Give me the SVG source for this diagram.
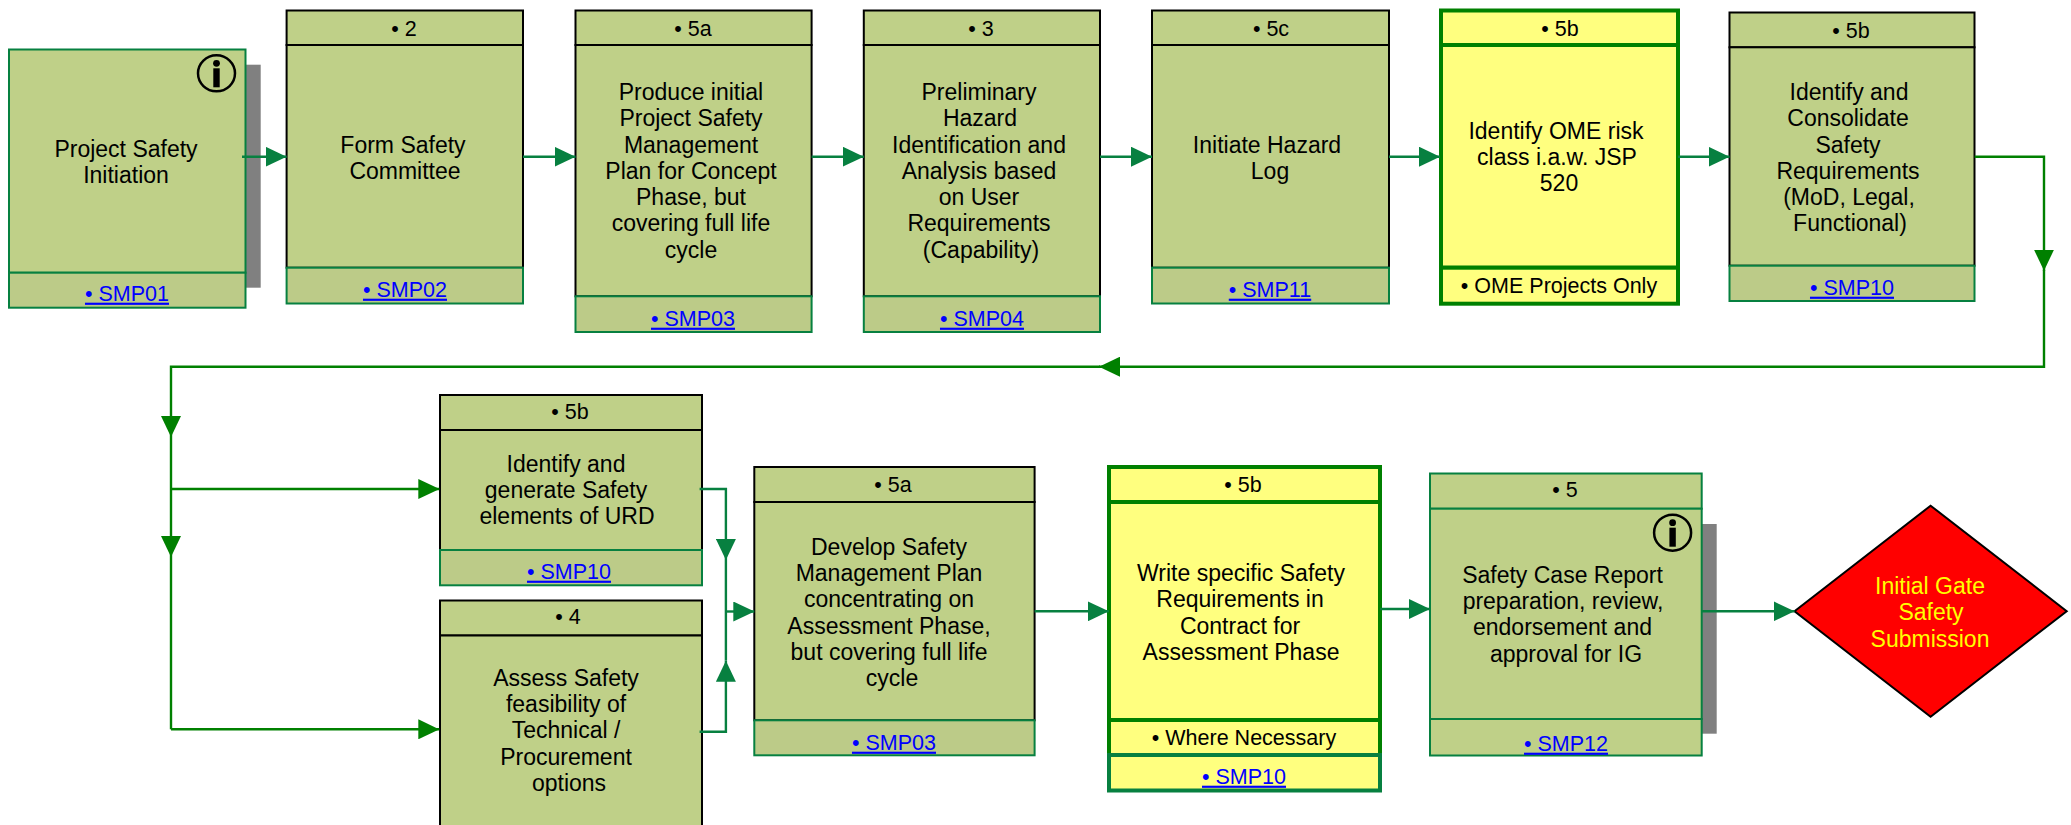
<svg xmlns="http://www.w3.org/2000/svg" width="2071" height="825" viewBox="0 0 2071 825">
<style>
text{font-family:"Liberation Sans",Arial,sans-serif;text-anchor:middle;fill:#000;transform:translateY(.7px)}
.b{font-size:23px}
.s{font-size:21.5px}
.l{font-size:21.5px;fill:#0000ff;text-decoration:underline}
.y{fill:#ffff00}
.o{fill:#bfd088;stroke:#000;stroke-width:2}
.g{fill:#bfd088;stroke:#078040;stroke-width:2}
.f{fill:#bccb88;stroke:#078040;stroke-width:2}
.w{fill:#ffff7f;stroke:#008000;stroke-width:4}
.w2{fill:#ffff7f;stroke:#078040;stroke-width:4}
.sh{fill:#808080}
.ic{fill:none;stroke:#000;stroke-width:2.5}
.c1,.c2{fill:none;stroke-width:2.4}
.c1{stroke:#078040}
.c2{stroke:#008000}
.a1{marker-end:url(#m1)}
.a2{marker-end:url(#m2)}
</style>
<defs>
<marker id="m1" markerUnits="userSpaceOnUse" viewBox="0 0 21 20" refX="21" refY="10" markerWidth="21" markerHeight="20" orient="auto"><path d="M0 0L21 10L0 20Z" fill="#078040"/></marker>
<marker id="m2" markerUnits="userSpaceOnUse" viewBox="0 0 21 20" refX="21" refY="10" markerWidth="21" markerHeight="20" orient="auto"><path d="M0 0L21 10L0 20Z" fill="#008000"/></marker>
<g id="info"><ellipse class="ic" cx="0" cy="0" rx="18.5" ry="18"/><circle cx="0" cy="-10" r="3.4"/><rect x="-3.2" y="-5" width="6.4" height="19"/></g>
</defs>

<g id="n1">
<rect class="sh" x="245.5" y="64.7" width="15.2" height="223"/>
<rect class="g" x="9" y="49.5" width="236.5" height="223.2"/>
<rect class="f" x="9" y="272.7" width="236.5" height="35"/>
<use href="#info" x="216.5" y="73.3"/>
<text class="b" x="126" y="156">Project Safety</text><text class="b" x="126" y="182">Initiation</text>
<text class="l" x="127" y="300">• SMP01</text>
</g>
<g id="n2">
<rect class="o" x="286.6" y="10.5" width="236.4" height="34.5"/>
<rect class="o" x="286.6" y="45" width="236.4" height="222.7"/>
<rect class="f" x="286.6" y="267.7" width="236.4" height="35.8"/>
<text class="s" x="404" y="35">• 2</text>
<text class="b" x="403" y="152">Form Safety</text><text class="b" x="405" y="178">Committee</text>
<text class="l" x="405" y="296">• SMP02</text>
</g>
<g id="n3">
<rect class="o" x="575.5" y="10.5" width="236.1" height="34.5"/>
<rect class="o" x="575.5" y="45" width="236.1" height="251.3"/>
<rect class="f" x="575.5" y="296.3" width="236.1" height="35.7"/>
<text class="s" x="693" y="35">• 5a</text>
<text class="b" x="691" y="99">Produce initial</text><text class="b" x="691" y="125.5">Project Safety</text><text class="b" x="691" y="152">Management</text><text class="b" x="691" y="178">Plan for Concept</text><text class="b" x="691" y="204">Phase, but</text><text class="b" x="691" y="230.5">covering full life</text><text class="b" x="691" y="257">cycle</text>
<text class="l" x="693" y="325">• SMP03</text>
</g>
<g id="n4">
<rect class="o" x="863.8" y="10.5" width="236.2" height="34.5"/>
<rect class="o" x="863.8" y="45" width="236.2" height="251.3"/>
<rect class="f" x="863.8" y="296.3" width="236.2" height="35.7"/>
<text class="s" x="981" y="35">• 3</text>
<text class="b" x="979" y="99">Preliminary</text><text class="b" x="980" y="125.5">Hazard</text><text class="b" x="979" y="152">Identification and</text><text class="b" x="979" y="178">Analysis based</text><text class="b" x="979" y="204">on User</text><text class="b" x="979" y="230.5">Requirements</text><text class="b" x="981" y="257">(Capability)</text>
<text class="l" x="982" y="325">• SMP04</text>
</g>
<g id="n5">
<rect class="o" x="1152" y="10.5" width="237" height="34.5"/>
<rect class="o" x="1152" y="45" width="237" height="222.7"/>
<rect class="f" x="1152" y="267.7" width="237" height="35.8"/>
<text class="s" x="1271" y="35">• 5c</text>
<text class="b" x="1267" y="152">Initiate Hazard</text><text class="b" x="1270" y="178">Log</text>
<text class="l" x="1270" y="296">• SMP11</text>
</g>
<g id="n6">
<rect class="w" x="1441" y="10.5" width="237" height="34.5"/>
<rect class="w" x="1441" y="45" width="237" height="222.7"/>
<rect class="w" x="1441" y="267.7" width="237" height="36"/>
<text class="s" x="1560" y="35">• 5b</text>
<text class="b" x="1556" y="138">Identify OME risk</text><text class="b" x="1557" y="164.5">class i.a.w. JSP</text><text class="b" x="1559" y="190.5">520</text>
<text class="s" x="1559" y="292">• OME Projects Only</text>
</g>
<g id="n7">
<rect class="o" x="1729.5" y="12.5" width="245" height="34.8"/>
<rect class="o" x="1729.5" y="47.3" width="245" height="218.4"/>
<rect class="f" x="1729.5" y="265.7" width="245" height="35.3"/>
<text class="s" x="1851" y="37">• 5b</text>
<text class="b" x="1849" y="99">Identify and</text><text class="b" x="1848" y="125.5">Consolidate</text><text class="b" x="1848" y="152">Safety</text><text class="b" x="1848" y="178">Requirements</text><text class="b" x="1849" y="204">(MoD, Legal,</text><text class="b" x="1850" y="230.5">Functional)</text>
<text class="l" x="1852" y="294">• SMP10</text>
</g>
<g id="n8">
<rect class="o" x="440" y="395" width="262" height="35"/>
<rect class="o" x="440" y="430" width="262" height="120"/>
<rect class="f" x="440" y="550" width="262" height="35.3"/>
<text class="s" x="570" y="418">• 5b</text>
<text class="b" x="566" y="471">Identify and</text><text class="b" x="566" y="497">generate Safety</text><text class="b" x="567" y="523">elements of URD</text>
<text class="l" x="569" y="578">• SMP10</text>
</g>
<g id="n9">
<rect class="o" x="440" y="600.5" width="262" height="35"/>
<rect class="o" x="440" y="635.5" width="262" height="205"/>
<text class="s" x="568" y="623">• 4</text>
<text class="b" x="566" y="685">Assess Safety</text><text class="b" x="566" y="711">feasibility of</text><text class="b" x="566" y="737">Technical /</text><text class="b" x="566" y="764">Procurement</text><text class="b" x="569" y="790">options</text>
</g>
<g id="n10">
<rect class="o" x="754.3" y="467" width="280.3" height="35"/>
<rect class="o" x="754.3" y="502" width="280.3" height="218.3"/>
<rect class="f" x="754.3" y="720.3" width="280.3" height="35"/>
<text class="s" x="893" y="491">• 5a</text>
<text class="b" x="889" y="554">Develop Safety</text><text class="b" x="889" y="580">Management Plan</text><text class="b" x="889" y="606">concentrating on</text><text class="b" x="889" y="633">Assessment Phase,</text><text class="b" x="889" y="659">but covering full life</text><text class="b" x="892" y="685">cycle</text>
<text class="l" x="894" y="749">• SMP03</text>
</g>
<g id="n11">
<rect class="w" x="1109" y="467" width="271" height="35"/>
<rect class="w" x="1109" y="502" width="271" height="218"/>
<rect class="w" x="1109" y="720" width="271" height="35"/>
<rect class="w2" x="1109" y="755" width="271" height="35.5"/>
<text class="s" x="1243" y="491">• 5b</text>
<text class="b" x="1241" y="580">Write specific Safety</text><text class="b" x="1240" y="606">Requirements in</text><text class="b" x="1240" y="633">Contract for</text><text class="b" x="1241" y="659">Assessment Phase</text>
<text class="s" x="1244" y="744">• Where Necessary</text>
<text class="l" x="1244" y="783">• SMP10</text>
</g>
<g id="n12">
<rect class="sh" x="1701.7" y="524" width="15" height="209.7"/>
<rect class="g" x="1430" y="473.5" width="271.7" height="35.2"/>
<rect class="g" x="1430" y="508.7" width="271.7" height="210.3"/>
<rect class="g" x="1430" y="719" width="271.7" height="36.5"/>
<use href="#info" x="1672.6" y="532.7"/>
<text class="s" x="1565" y="496.5">• 5</text>
<text class="b" x="1562.5" y="582">Safety Case Report</text><text class="b" x="1563" y="608">preparation, review,</text><text class="b" x="1562.5" y="634">endorsement and</text><text class="b" x="1566" y="661">approval for IG</text>
<text class="l" x="1566" y="750">• SMP12</text>
</g>
<g id="n13">
<path d="M1794.5 611.2L1930.6 505.7L2066.7 611.2L1930.6 716.7Z" fill="#ff0000" stroke="#000" stroke-width="2"/>
<text class="b y" x="1930" y="593">Initial Gate</text><text class="b y" x="1931" y="619">Safety</text><text class="b y" x="1930" y="646">Submission</text>
</g>

<g id="connectors">
<path class="c1 a1" d="M242 156.7H286.6"/>
<path class="c1 a1" d="M523 156.7H575.5"/>
<path class="c1 a1" d="M811.6 156.7H863.8"/>
<path class="c1 a1" d="M1100 156.7H1152"/>
<path class="c1 a1" d="M1389 156.7H1440"/>
<path class="c1 a1" d="M1678 156.7H1729.5"/>
<path class="c2 a2" d="M1974.7 156.7H2044V270.7"/>
<path class="c2 a2" d="M2044 270V366.7H1099"/>
<path class="c2 a2" d="M1100 366.7H171V437"/>
<path class="c2 a2" d="M171 437V557"/>
<path class="c2" d="M171 557V729.3"/>
<path class="c2 a2" d="M171 489H439.3"/>
<path class="c2 a2" d="M171 729.3H439.3"/>
<path class="c1 a1" d="M699.6 489H725.9V560"/>
<path class="c1 a1" d="M699.6 731.7H725.9V660.7"/>
<path class="c1" d="M725.9 560V660.7"/>
<path class="c1 a1" d="M725.9 611.5H754.3"/>
<path class="c1 a1" d="M1034.6 611.3H1108.8"/>
<path class="c1 a1" d="M1380 609H1430"/>
<path class="c1 a1" d="M1701.7 611.3H1794.5"/>
</g>
</svg>
